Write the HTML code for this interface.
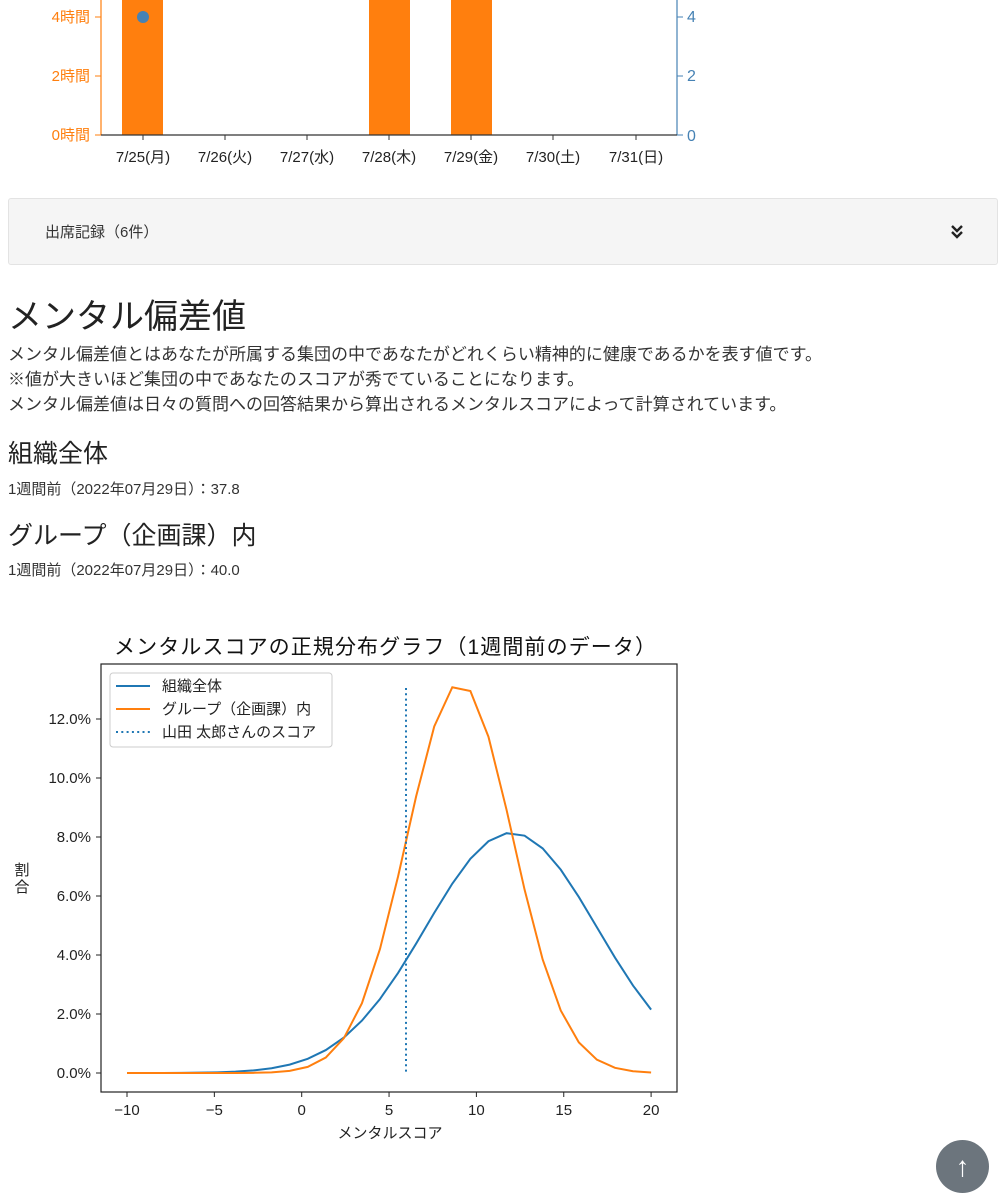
<!DOCTYPE html>
<html><head><meta charset="utf-8"><style>
body{margin:0;width:998px;height:1200px;overflow:hidden;background:#fff;position:relative;font-family:"Liberation Sans","Noto Sans CJK JP",sans-serif;color:#212529}
.a{position:absolute;white-space:nowrap}
</style></head><body>
<svg class="a" style="left:0;top:0" width="998" height="180" font-family="Liberation Sans, Noto Sans CJK JP, sans-serif">
<rect x="122" y="0" width="41" height="135" fill="#ff7f0e"/>
<rect x="369" y="0" width="41" height="135" fill="#ff7f0e"/>
<rect x="451" y="0" width="41" height="135" fill="#ff7f0e"/>
<circle cx="143" cy="17" r="6" fill="#4682b4"/>
<line x1="101" y1="0" x2="101" y2="135" stroke="#ff7f0e" stroke-width="1.2"/>
<line x1="677" y1="0" x2="677" y2="135" stroke="#4682b4" stroke-width="1.2"/>
<line x1="101" y1="135" x2="677" y2="135" stroke="#333" stroke-width="1.2"/>
<g fill="#ff7f0e" font-size="15" text-anchor="end">
<text x="90" y="22">4時間</text><text x="90" y="81">2時間</text><text x="90" y="140">0時間</text></g>
<g stroke="#ff7f0e"><line x1="95" y1="17" x2="101" y2="17"/><line x1="95" y1="76" x2="101" y2="76"/><line x1="95" y1="135" x2="101" y2="135"/></g>
<g stroke="#4682b4"><line x1="677" y1="17" x2="683" y2="17"/><line x1="677" y1="76" x2="683" y2="76"/><line x1="677" y1="135" x2="683" y2="135"/></g>
<g fill="#4682b4" font-size="16"><text x="687" y="22">4</text><text x="687" y="81">2</text><text x="687" y="141">0</text></g>
<g font-size="15" text-anchor="middle" fill="#222">
<text x="143" y="162">7/25(月)</text><text x="225" y="162">7/26(火)</text><text x="307" y="162">7/27(水)</text><text x="389" y="162">7/28(木)</text><text x="471" y="162">7/29(金)</text><text x="553" y="162">7/30(土)</text><text x="636" y="162">7/31(日)</text></g>
<g stroke="#333"><line x1="143" y1="135" x2="143" y2="140"/><line x1="225" y1="135" x2="225" y2="140"/><line x1="307" y1="135" x2="307" y2="140"/><line x1="389" y1="135" x2="389" y2="140"/><line x1="471" y1="135" x2="471" y2="140"/><line x1="553" y1="135" x2="553" y2="140"/><line x1="636" y1="135" x2="636" y2="140"/></g>
</svg>
<div class="a" style="left:8px;top:198px;width:990px;height:67px;background:#f5f5f5;border:1px solid #e3e3e3;border-radius:3px;box-sizing:border-box"></div>
<div class="a" style="left:45px;top:221px;font-size:15px;color:#333">出席記録（6件）</div>
<svg class="a" style="left:950px;top:224px" width="14" height="16"><path d="M2 2 L7 7 L12 2 M2 8 L7 13 L12 8" stroke="#222" stroke-width="2.4" fill="none"/></svg>
<div class="a" style="left:8px;top:289px;font-size:34px;color:#222">メンタル偏差値</div>
<div class="a" style="left:8px;top:342px;font-size:17px;line-height:25px;color:#333">メンタル偏差値とはあなたが所属する集団の中であなたがどれくらい精神的に健康であるかを表す値です。<br>※値が大きいほど集団の中であなたのスコアが秀でていることになります。<br>メンタル偏差値は日々の質問への回答結果から算出されるメンタルスコアによって計算されています。</div>
<div class="a" style="left:8px;top:434px;font-size:25px;color:#222">組織全体</div>
<div class="a" style="left:8px;top:478px;font-size:15px;color:#333">1週間前（2022年07月29日）：37.8</div>
<div class="a" style="left:8px;top:516px;font-size:25px;color:#222">グループ（企画課）内</div>
<div class="a" style="left:8px;top:559px;font-size:15px;color:#333">1週間前（2022年07月29日）：40.0</div>
<svg id="ch" class="a" style="left:0;top:620px" width="700" height="530" font-family="Liberation Sans, Noto Sans CJK JP, sans-serif">
<text x="385" y="34" font-size="21" text-anchor="middle" fill="#111" textLength="542">メンタルスコアの正規分布グラフ（1週間前のデータ）</text>
<rect x="101" y="44" width="576" height="428" fill="none" stroke="#222" stroke-width="1.2"/>
<g id="ticks" font-size="15" fill="#222"></g>
<polyline id="pb" fill="none" stroke="#1f77b4" stroke-width="2"/>
<polyline id="po" fill="none" stroke="#ff7f0e" stroke-width="2"/>
<line x1="406" y1="68" x2="406" y2="453" stroke="#1f77b4" stroke-width="2" stroke-dasharray="2,3.3"/>
<rect x="110" y="53" width="222" height="74" fill="#fff" stroke="#ccc" rx="3"/>
<line x1="116" y1="66" x2="150" y2="66" stroke="#1f77b4" stroke-width="2"/>
<line x1="116" y1="89" x2="150" y2="89" stroke="#ff7f0e" stroke-width="2"/>
<line x1="116" y1="112" x2="150" y2="112" stroke="#1f77b4" stroke-width="2" stroke-dasharray="2,3.3"/>
<g font-size="15" fill="#222"><text x="162" y="71">組織全体</text><text x="162" y="94">グループ（企画課）内</text><text x="162" y="117">山田 太郎さんのスコア</text></g>
<text x="390" y="518" font-size="15" text-anchor="middle" fill="#222">メンタルスコア</text>
<text x="22" y="255" font-size="15" text-anchor="middle" fill="#222">割</text>
<text x="22" y="272" font-size="15" text-anchor="middle" fill="#222">合</text>
</svg>
<div class="a" style="left:936px;top:1140px;width:53px;height:53px;border-radius:50%;background:#6c757d;color:#fff;font-size:28px;text-align:center;line-height:53px">↑</div>
<script>
var X=function(v){return 127+(v+10)*17.47},Y=function(p){return 453-p*29.5};
function g(x,m,s){return 100*Math.exp(-(x-m)*(x-m)/(2*s*s))/(s*Math.sqrt(2*Math.PI))}
var b=[],o=[];for(var i=0;i<30;i++){var x=-10+30*i/29;b.push(X(x)+","+Y(g(x,12.0,4.9)));o.push(X(x)+","+Y(g(x,9.05,3.02)));}
document.getElementById('pb').setAttribute('points',b.join(' '));
document.getElementById('po').setAttribute('points',o.join(' '));
var t='';
for(var v=-10;v<=20;v+=5){var px=X(v);t+='<line x1="'+px+'" y1="472" x2="'+px+'" y2="477" stroke="#222"/><text x="'+px+'" y="495" text-anchor="middle">'+(v<0?'−'+(-v):v)+'</text>';}
for(var p=0;p<=12;p+=2){var py=Y(p);t+='<line x1="96" y1="'+py+'" x2="101" y2="'+py+'" stroke="#222"/><text x="91" y="'+(py+5)+'" text-anchor="end">'+p.toFixed(1)+'%</text>';}
document.getElementById('ticks').innerHTML=t;
</script>
</body></html>
